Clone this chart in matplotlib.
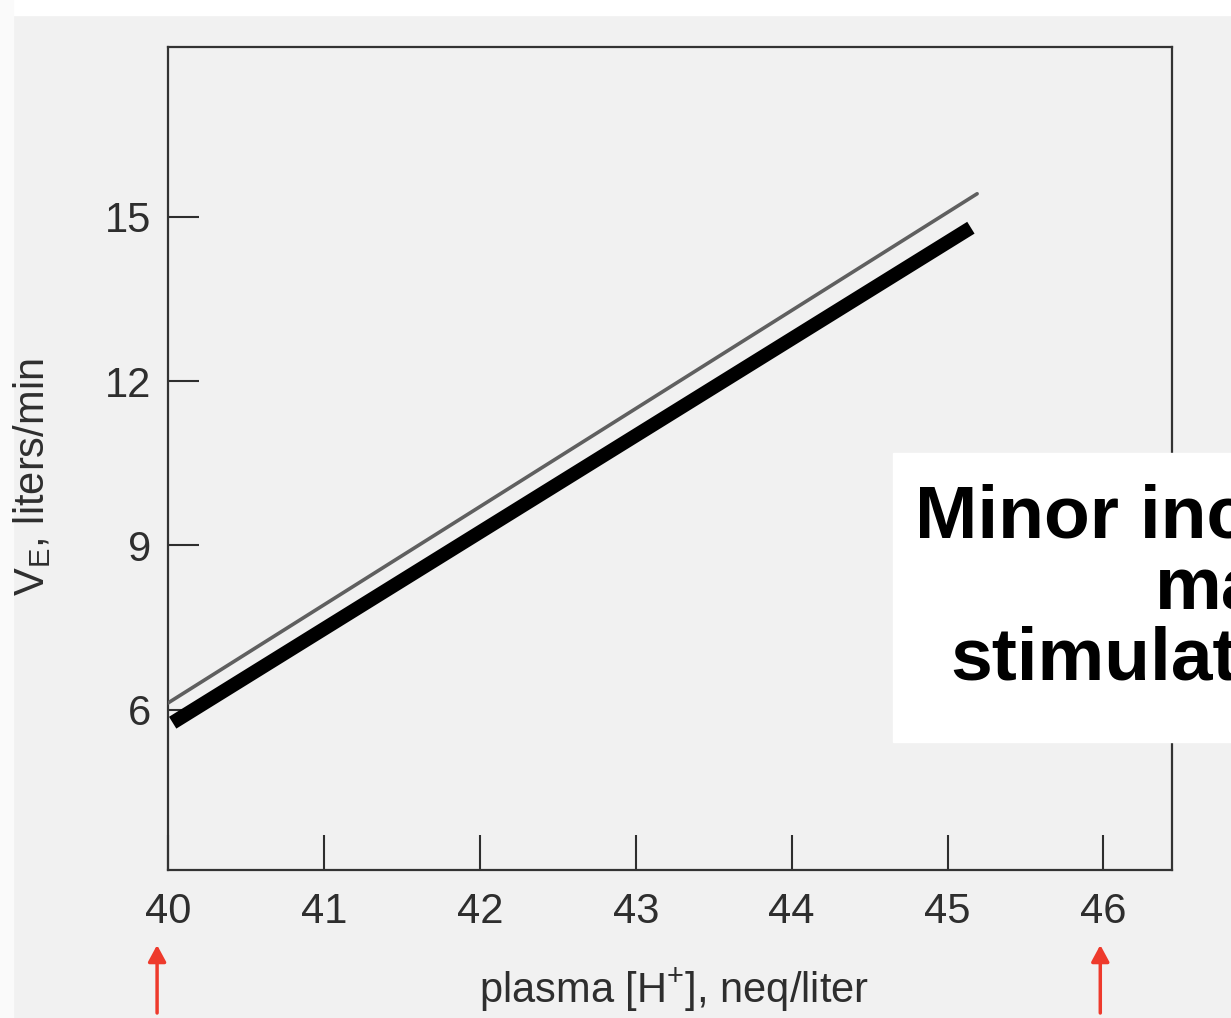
import matplotlib
matplotlib.use('Agg')
import matplotlib.pyplot as plt
from matplotlib.patches import Rectangle

# data
h_plus_ticks = [40, 41, 42, 43, 44, 45, 46]
ve_ticks = [6, 9, 12, 15]

# thin (original) line and thick (overlay) line
h_plus_thin = [40.0, 45.19]
ve_thin = [6.12, 15.42]
h_plus_bold = [40.03, 45.15]
ve_bold = [5.76, 14.8]

# red arrows under the x axis
arrow_x = [39.93, 45.98]

box_lines = ['Minor inc', 'ma', 'stimulat']

plt.rcParams['font.family'] = ['Liberation Sans Narrow', 'Liberation Sans', 'DejaVu Sans']

W, H = 1231, 1018
fig = plt.figure(figsize=(W / 100, H / 100), dpi=100, facecolor='#f1f1f1')

# white scan margins
fig.patches.append(Rectangle((0, 1 - 15 / H), 1, 15 / H, transform=fig.transFigure,
                             color='white', zorder=0))
fig.patches.append(Rectangle((0, 0), 13 / W, 1, transform=fig.transFigure,
                             color='#fafafa', zorder=0))

ax = fig.add_axes([168 / W, 148 / H, (1172 - 168) / W, (971 - 148) / H])
ax.set_facecolor('#f1f1f1')
ax.set_xlim(40, 46.44)
ax.set_ylim(3.07, 18.1)

ax.plot(h_plus_thin, ve_thin, color='#5f5f5f', lw=2.6, solid_capstyle='round', zorder=3)
ax.plot(h_plus_bold, ve_bold, color='black', lw=10, solid_capstyle='butt', zorder=4)

ax.set_xticks(h_plus_ticks)
ax.set_yticks(ve_ticks)
ax.tick_params(axis='x', direction='in', length=25, width=1.5, pad=16,
               labelsize=30, colors='#2e2e2e')
ax.tick_params(axis='y', direction='in', length=22, width=1.5, pad=12,
               labelsize=30, colors='#2e2e2e')
for s in ax.spines.values():
    s.set_linewidth(1.6)
    s.set_color('#333333')

fig.text(32 / W, 1 - 477 / H, r'V$_\mathregular{E}$, liters/min', rotation=90,
         ha='center', va='center', fontsize=30, color='#2e2e2e')
fig.text(674 / W, 1 - 990 / H, r'plasma [H$^\mathregular{+}$], neq/liter',
         ha='center', va='center', fontsize=30, color='#2e2e2e')

# white text box (cut at right edge)
fig.patches.append(Rectangle((893 / W, 1 - 742 / H), 1, (742 - 453) / H,
                             transform=fig.transFigure, color='white', zorder=5))
box_x = [915, 1155, 950]
box_base = [538, 610, 680]
for txt, bx, by in zip(box_lines, box_x, box_base):
    fig.text(bx / W, 1 - by / H, txt, ha='left', va='baseline', fontsize=54,
             fontweight='bold', family='Liberation Sans', color='black', zorder=6)

for xa in arrow_x:
    ax.annotate('', xy=(xa, 1 - 945 / H), xytext=(xa, 1 - 1013 / H),
                xycoords=('data', 'figure fraction'),
                textcoords=('data', 'figure fraction'),
                arrowprops=dict(arrowstyle='-|>,head_length=0.5,head_width=0.27',
                                color='#ee3a2c', lw=2.5, mutation_scale=20,
                                shrinkA=0, shrinkB=0))

fig.savefig('out.png', dpi=100, facecolor=fig.get_facecolor())
